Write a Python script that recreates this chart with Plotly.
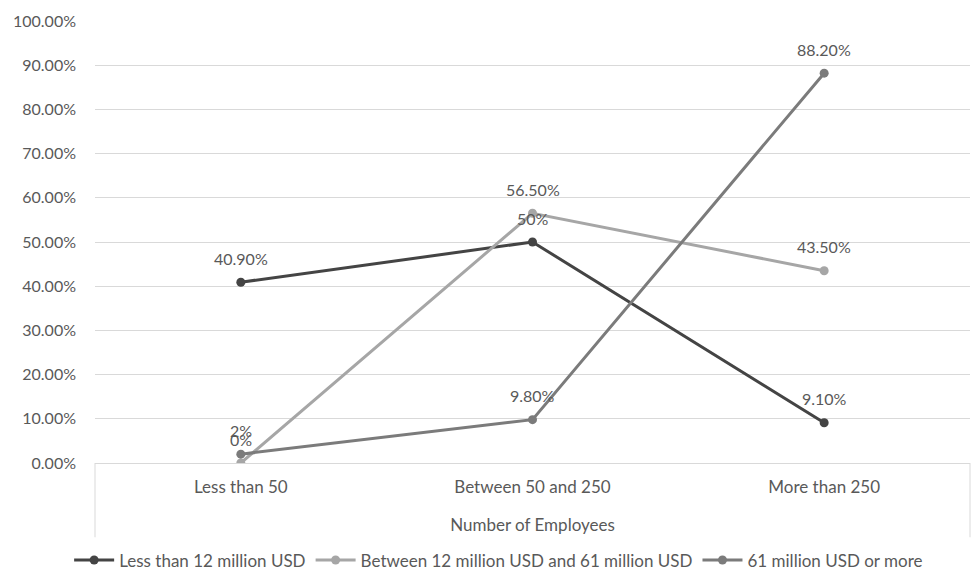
import plotly.graph_objects as go

categories = ["Less than 50", "Between 50 and 250", "More than 250"]
series_names = ["Less than 12 million USD",
                "Between 12 million USD and 61 million USD",
                "61 million USD or more"]
s1_values = [40.9, 50.0, 9.1]
s2_values = [0.0, 56.5, 43.5]
s3_values = [2.0, 9.8, 88.2]
s1_labels = ["40.90%", "50%", "9.10%"]
s2_labels = ["0%", "56.50%", "43.50%"]
s3_labels = ["2%", "9.80%", "88.20%"]
y_ticks = [0, 10, 20, 30, 40, 50, 60, 70, 80, 90, 100]
y_tick_labels = ["0.00%", "10.00%", "20.00%", "30.00%", "40.00%", "50.00%",
                 "60.00%", "70.00%", "80.00%", "90.00%", "100.00%"]

colors = ["#444444", "#a6a6a6", "#7b7b7b"]
FONT = "Lato"
TXT = "#595959"

fig = go.Figure()
series = [(s1_values, s1_labels), (s2_values, s2_labels), (s3_values, s3_labels)]
for (vals, labs), name, c in zip(series, series_names, colors):
    fig.add_trace(go.Scatter(
        x=categories, y=vals, name=name, mode="lines+markers",
        line=dict(color=c, width=3), marker=dict(color=c, size=9),
        hoverinfo="skip"))

for (vals, labs) in series:
    for x, y, t in zip(categories, vals, labs):
        fig.add_annotation(x=x, y=y, text=t, showarrow=False, yshift=24,
                           font=dict(family=FONT, size=16, color=TXT))

grid = "#d9d9d9"
fig.add_shape(type="line", xref="paper", yref="paper", x0=0, x1=0, y0=0, y1=-0.168,
              line=dict(color=grid, width=1))
fig.add_shape(type="line", xref="paper", yref="paper", x0=1, x1=1, y0=0, y1=-0.168,
              line=dict(color=grid, width=1))

fig.update_layout(
    width=972, height=573,
    margin=dict(l=95, r=2, t=21, b=110, autoexpand=False),
    paper_bgcolor="white", plot_bgcolor="white",
    font=dict(family=FONT, size=16, color=TXT),
    showlegend=True,
    legend=dict(orientation="h", xref="container", yref="container",
                x=0.513, xanchor="center", y=0.022, yanchor="middle",
                font=dict(family=FONT, size=17, color=TXT),
                itemwidth=40, tracegroupgap=0),
    xaxis=dict(type="category", range=[-0.5, 2.5], showgrid=False,
               showline=False, zeroline=False, ticks="",
               ticklabelstandoff=12, tickfont=dict(size=17),
               title=dict(text="Number of Employees", standoff=23,
                          font=dict(family=FONT, size=17, color=TXT))),
    yaxis=dict(range=[0, 100], tickvals=y_ticks, ticktext=y_tick_labels,
               showgrid=True, gridcolor=grid, gridwidth=1, zeroline=True,
               zerolinecolor=grid, zerolinewidth=1, showline=False, ticks="",
               ticklabelstandoff=18, tickfont=dict(size=16)),
)

fig.write_html("out.html")
